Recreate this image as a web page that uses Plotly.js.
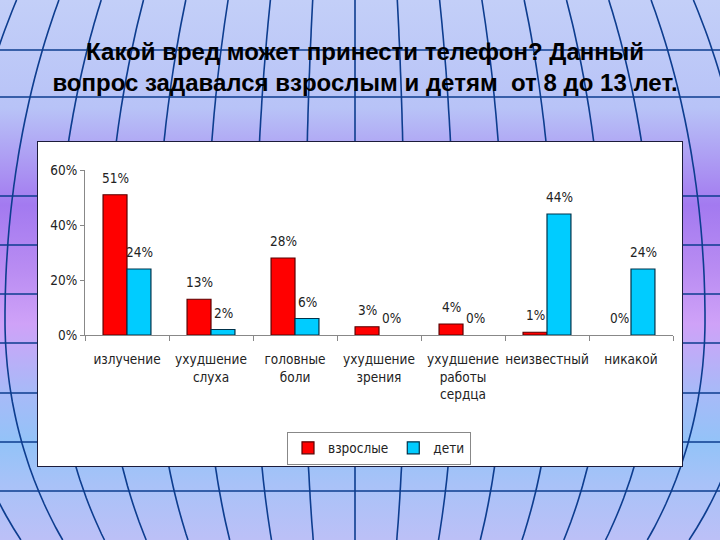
<!DOCTYPE html>
<html>
<head>
<meta charset="utf-8">
<script src="https://cdn.plot.ly/plotly-3.0.1.min.js"></script>
<style>
  html, body { margin:0; padding:0; }
  body { width:720px; height:540px; overflow:hidden; position:relative;
    background: linear-gradient(to bottom, #c3cff8 0%, #b8c3f7 20%, #a37af0 38%, #b98cf2 50%, #cfa2f8 60%, #a9b9f8 72%, #93c3f8 82%, #a9c2f8 90%, #bcc0f7 100%); }
  #bg { position:absolute; left:0; top:0; }
  #box { position:absolute; left:37px; top:141px; width:644px; height:324px; background:#fff; border:1.5px solid #1c1c3a; }
  #chart { position:absolute; left:0; top:0; width:720px; height:540px; }
</style>
</head>
<body>
<svg id="bg" width="720" height="540"></svg>
<div id="box"></div>
<div id="chart"></div>
<script>
// ---- data ----
const categories = ['излучение', 'ухудшение слуха', 'головные боли', 'ухудшение зрения', 'ухудшение работы сердца', 'неизвестный', 'никакой'];
const tickLabels = ['излучение', 'ухудшение<br>слуха', 'головные<br>боли', 'ухудшение<br>зрения', 'ухудшение<br>работы<br>сердца', 'неизвестный', 'никакой'];
const adults   = [0.51, 0.13, 0.28, 0.03, 0.04, 0.01, 0.00];
const children = [0.24, 0.02, 0.06, 0.00, 0.00, 0.44, 0.24];
const seriesNames = ['взрослые', 'дети'];
const yTicks = [0, 0.2, 0.4, 0.6];
const titleText = 'Какой вред может принести телефон? Данный<br>вопрос задавался взрослым и детям  от 8 до 13 лет.';

// ---- decorative slide background (globe grid) ----
(function () {
  const svg = document.getElementById('bg');
  const ns = 'http://www.w3.org/2000/svg';
  const col = '#0d3d8f';
  [50, 97, 196, 245, 294, 343, 393, 442, 491].forEach(function (y) {
    const l = document.createElementNS(ns, 'line');
    l.setAttribute('x1', 0); l.setAttribute('x2', 720);
    l.setAttribute('y1', y); l.setAttribute('y2', y);
    l.setAttribute('stroke', col); l.setAttribute('stroke-width', 1.5);
    svg.appendChild(l);
  });
  const cx = 355, cy = 320, bTop = 600, bBot = 400;
  for (let k = -10; k <= 10; k++) {
    const a = k * 50;
    let d = '';
    for (let y = 0; y <= 540; y += 6) {
      const b = y < cy ? bTop : bBot;
      const t = (y - cy) / b;
      const x = cx + a * Math.sqrt(Math.max(0, 1 - t * t));
      d += (y === 0 ? 'M' : 'L') + x.toFixed(1) + ',' + y;
    }
    const p = document.createElementNS(ns, 'path');
    p.setAttribute('d', d); p.setAttribute('fill', 'none');
    p.setAttribute('stroke', col); p.setAttribute('stroke-width', 1.6);
    svg.appendChild(p);
  }
})();

// ---- chart ----
const narrow = '"DejaVu Sans Condensed", "Liberation Sans Narrow", "Arial Narrow", "Liberation Sans", Arial, sans-serif';
const labelFont = { family:narrow, size:13.5, color:'#222' };
function outlineWidths(values) { return values.map(function (v) { return v > 0 ? 1.2 : 0; }); }
const traces = [
  { type:'bar', name:seriesNames[0], x:categories, y:adults,
    marker:{ color:'#FF0000', line:{ color:'#5a0000', width:outlineWidths(adults) } } },
  { type:'bar', name:seriesNames[1], x:categories, y:children,
    marker:{ color:'#00CCFF', line:{ color:'#00324a', width:outlineWidths(children) } } }
];
// value labels placed at each bar's top through the axis scales
function valueLabels(values, shift) {
  return values.map(function (v, i) {
    return { x:categories[i], y:v, xref:'x', yref:'y', text:Math.round(v * 100) + '%',
      showarrow:false, yanchor:'bottom', xanchor:'center', xshift:shift, yshift:7, font:labelFont };
  });
}
const layout = {
  width:720, height:540,
  paper_bgcolor:'rgba(0,0,0,0)', plot_bgcolor:'rgba(0,0,0,0)',
  margin:{ l:85, r:47, t:170, b:205 },
  barmode:'group', bargap:0.43, bargroupgap:0,
  showlegend:true,
  annotations: valueLabels(adults, -12).concat(valueLabels(children, 12)),
  title:{ text:titleText, xref:'container', x:0.507, yref:'container', y:1 - 60/540, yanchor:'top',
    font:{ family:'"Liberation Sans", Arial, sans-serif', size:24, weight:'bold', color:'#000' } },
  xaxis:{ type:'category', tickvals:categories, ticktext:tickLabels, tickangle:0,
    showline:true, linecolor:'#888', linewidth:1, ticks:'outside', tickson:'boundaries',
    ticklen:5, tickcolor:'#888', showgrid:false, zeroline:false, ticklabelstandoff:12,
    tickfont:labelFont },
  yaxis:{ range:[0, 0.6], tickvals:yTicks, tickformat:'.0%',
    showline:true, linecolor:'#888', linewidth:1, ticks:'outside', ticklen:4, tickcolor:'#888',
    showgrid:false, zeroline:false, tickfont:labelFont },
  legend:{ orientation:'h', x:0.5, xanchor:'center', y:-0.585, yanchor:'top',
    bgcolor:'#fff', bordercolor:'#888', borderwidth:1, itemwidth:30,
    font:labelFont }
};
Plotly.newPlot('chart', traces, layout, { displayModeBar:false, staticPlot:true });
</script>
</body>
</html>
